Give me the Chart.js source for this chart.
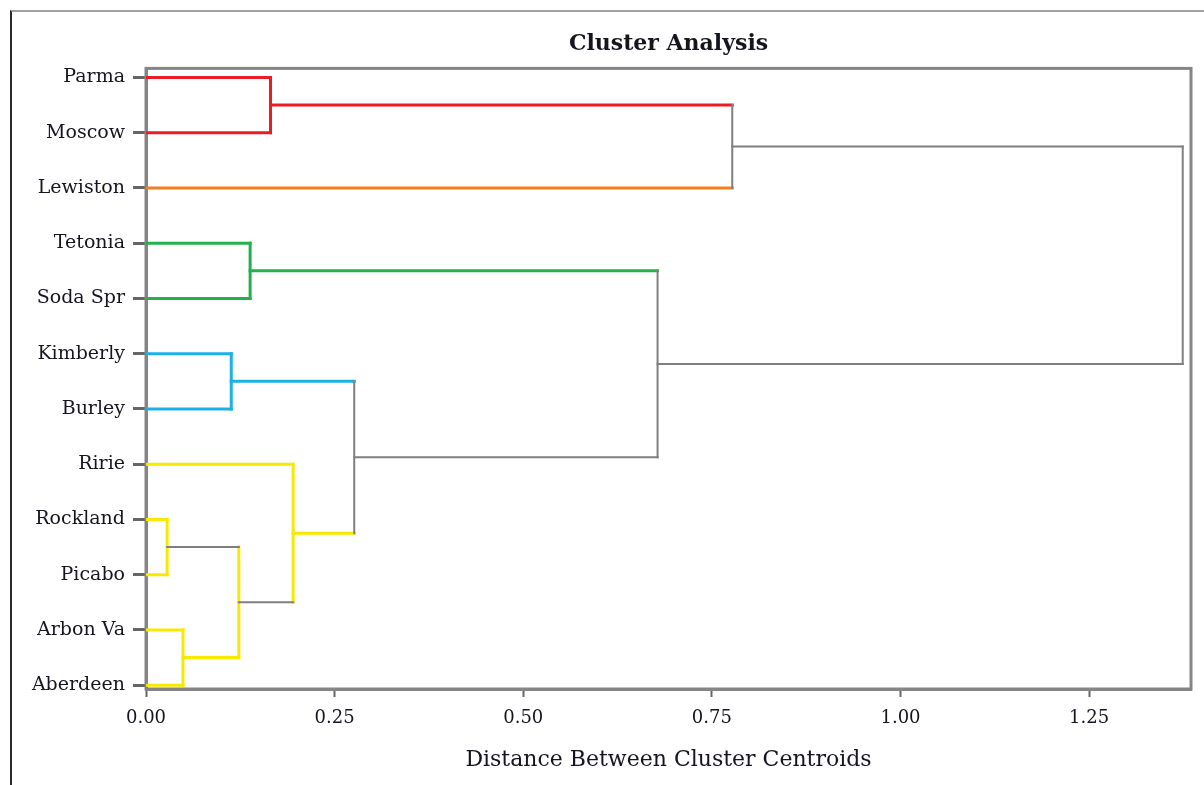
<!DOCTYPE html>
<html>
<head>
<meta charset="utf-8">
<script src="https://cdn.jsdelivr.net/npm/chart.js@4"></script>
<style>
  html, body { margin: 0; padding: 0; background: #fff; }
  #wrap { position: relative; width: 1204px; height: 785px; }
  #frame { position: absolute; left: 10px; top: 10px; right: 0; bottom: 0;
           border-left: 2px solid #2a2a2a; border-top: 2px solid #a0a0a0; pointer-events: none; }
  canvas { position: absolute; left: 0; top: 0; }
</style>
</head>
<body>
<div id="wrap">
  <canvas id="chart" width="1204" height="785"></canvas>
  <div id="frame"></div>
</div>
<script>
// leaves, top to bottom
const leaves = ['Parma', 'Moscow', 'Lewiston', 'Tetonia', 'Soda Spr', 'Kimberly',
                'Burley', 'Ririe', 'Rockland', 'Picabo', 'Arbon Va', 'Aberdeen'];
// merges: node ids 0-11 are leaves, merge i creates node 12 + i
const mergeLeft   = [8, 10, 5, 12, 3, 0, 7, 14, 16, 17, 21];
const mergeRight  = [9, 11, 6, 13, 4, 1, 15, 18, 19, 2, 20];
const mergeHeight = [0.028, 0.049, 0.113, 0.123, 0.138, 0.165, 0.195, 0.276, 0.678, 0.777, 1.374];
const xTicks = [0, 0.25, 0.5, 0.75, 1.0, 1.25];

// colours: vertical link of each merge, and horizontal stem of each node (leaves then merges)
const COL = { R: '#ec1c24', O: '#f47f20', G: '#22b14c', B: '#1cb0e6', Y: '#f7ea00', K: '#7f7f7f' };
const mergeColor = ['Y', 'Y', 'B', 'Y', 'G', 'R', 'Y', 'K', 'K', 'K', 'K'];
const stemColor = ['R', 'R', 'O', 'G', 'G', 'B', 'B', 'Y', 'Y', 'Y', 'Y', 'Y',
                   'K', 'Y', 'B', 'K', 'G', 'R', 'Y', 'K', 'K', 'K'];

const nodeY = leaves.map((_, i) => i);
const nodeH = leaves.map(() => 0);
const parentH = [];
mergeHeight.forEach((h, i) => {
  const a = mergeLeft[i], b = mergeRight[i];
  nodeY.push((nodeY[a] + nodeY[b]) / 2);
  nodeH.push(h);
  parentH[a] = h;
  parentH[b] = h;
});

const seg = (pts, c) => ({
  data: pts, showLine: true, pointRadius: 0, borderColor: COL[c],
  borderWidth: c === 'K' ? 2 : 3, borderCapStyle: 'square', fill: false, tension: 0
});

const gray = [], colored = [];
nodeY.forEach((y, n) => {
  if (parentH[n] === undefined) return;
  const d = seg([{ x: nodeH[n], y }, { x: parentH[n], y }], stemColor[n]);
  (stemColor[n] === 'K' ? gray : colored).push(d);
});
mergeHeight.forEach((h, i) => {
  const d = seg([{ x: h, y: nodeY[mergeLeft[i]] }, { x: h, y: nodeY[mergeRight[i]] }], mergeColor[i]);
  (mergeColor[i] === 'K' ? gray : colored).push(d);
});

const plotFrame = {
  id: 'plotFrame',
  beforeDatasetsDraw(chart) {
    const { ctx, chartArea: a } = chart;
    ctx.save();
    ctx.strokeStyle = '#858585';
    ctx.lineWidth = 3;
    ctx.strokeRect(a.left, a.top, a.right - a.left, a.bottom - a.top);
    ctx.restore();
  }
};

const SERIF = "'DejaVu Serif', serif";
const INK = '#15151f';

new Chart(document.getElementById('chart').getContext('2d'), {
  type: 'scatter',
  data: { datasets: [...gray, ...colored] },
  plugins: [plotFrame],
  options: {
    responsive: false,
    animation: false,
    layout: { padding: { left: 0, right: 13, top: 0, bottom: 0 } },
    plugins: {
      legend: { display: false },
      tooltip: { enabled: false },
      title: {
        display: true, fullSize: false, text: 'Cluster Analysis', color: INK,
        font: { family: SERIF, size: 22, weight: 'bold' },
        padding: { top: 31, bottom: 11 }
      }
    },
    scales: {
      x: {
        type: 'linear', min: 0, max: 1.385,
        afterFit: (s) => { s.height = 96; },
        afterBuildTicks: (s) => { s.ticks = xTicks.map(v => ({ value: v })); },
        border: { display: true, color: '#858585', width: 3 },
        grid: { drawOnChartArea: false, drawTicks: true, tickLength: 8, tickWidth: 2, tickColor: '#666' },
        ticks: {
          padding: 11, color: INK, font: { family: SERIF, size: 18 },
          maxRotation: 0, callback: (v) => Number(v).toFixed(2)
        },
        title: {
          display: true, text: 'Distance Between Cluster Centroids', color: INK,
          font: { family: SERIF, size: 22 }, padding: { top: 0, bottom: 12 }
        }
      },
      y: {
        type: 'linear', reverse: true, min: -0.163, max: 11.07,
        afterFit: (s) => { s.width = 146; },
        afterBuildTicks: (s) => { s.ticks = leaves.map((_, i) => ({ value: i })); },
        border: { display: true, color: '#858585', width: 3 },
        grid: { drawOnChartArea: false, drawTicks: true, tickLength: 13, tickWidth: 3, tickColor: '#666' },
        ticks: {
          padding: 8, color: INK, font: { family: SERIF, size: 19 },
          callback: (v) => leaves[v]
        }
      }
    }
  }
});
</script>
</body>
</html>
